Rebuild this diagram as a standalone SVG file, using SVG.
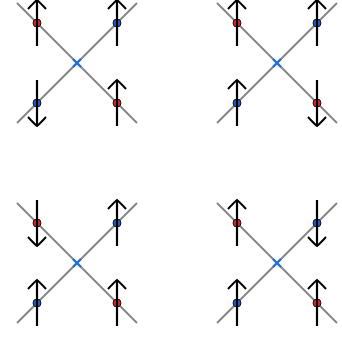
<svg xmlns="http://www.w3.org/2000/svg" width="342" height="339" viewBox="0 0 342 339">
<style>
.ln{stroke:#888888;stroke-width:2;fill:none}
.ar{stroke:#000000;stroke-width:2.2;fill:none;marker-end:url(#ah)}
.r{fill:#d62728;stroke:#000000;stroke-width:0.8}
.b{fill:#1f5fc0;stroke:#000000;stroke-width:0.8}
.x{stroke:#1f6fd6;stroke-width:2.2;fill:none}
</style>
<defs>
<marker id="ah" markerUnits="userSpaceOnUse" viewBox="-11 -11 13 22" refX="0" refY="0" markerWidth="13" markerHeight="22" orient="auto" overflow="visible">
<path d="M-9,-9 Q-2.5,-3 0,0 Q-2.5,3 -9,9" stroke="#000000" stroke-width="2" fill="none"/>
</marker>
</defs>
<rect width="342" height="339" fill="#ffffff"/>
<g id="connectors">
<path class="ln" d="M17,3 L137,123 M137,3 L17,123"/>
<path class="ln" d="M217,3 L337,123 M337,3 L217,123"/>
<path class="ln" d="M17,203 L137,323 M137,203 L17,323"/>
<path class="ln" d="M217,203 L337,323 M337,203 L217,323"/>
<path class="x" d="M73,59 L81,67 M81,59 L73,67"/>
<path class="x" d="M273,59 L281,67 M281,59 L273,67"/>
<path class="x" d="M73,259 L81,267 M81,259 L73,267"/>
<path class="x" d="M273,259 L281,267 M281,259 L273,267"/>
</g>
<g id="tl">
<circle class="r" cx="37" cy="23" r="4"/><path class="ar" d="M37,46 L37,0"/>
<circle class="b" cx="117" cy="23" r="4"/><path class="ar" d="M117,46 L117,0"/>
<circle class="b" cx="37" cy="103" r="4"/><path class="ar" d="M37,80 L37,126"/>
<circle class="r" cx="117" cy="103" r="4"/><path class="ar" d="M117,126 L117,80"/>
</g>
<g id="tr">
<circle class="r" cx="237" cy="23" r="4"/><path class="ar" d="M237,46 L237,0"/>
<circle class="b" cx="317" cy="23" r="4"/><path class="ar" d="M317,46 L317,0"/>
<circle class="b" cx="237" cy="103" r="4"/><path class="ar" d="M237,126 L237,80"/>
<circle class="r" cx="317" cy="103" r="4"/><path class="ar" d="M317,80 L317,126"/>
</g>
<g id="bl">
<circle class="r" cx="37" cy="223" r="4"/><path class="ar" d="M37,200 L37,246"/>
<circle class="b" cx="117" cy="223" r="4"/><path class="ar" d="M117,246 L117,200"/>
<circle class="b" cx="37" cy="303" r="4"/><path class="ar" d="M37,326 L37,280"/>
<circle class="r" cx="117" cy="303" r="4"/><path class="ar" d="M117,326 L117,280"/>
</g>
<g id="br">
<circle class="r" cx="237" cy="223" r="4"/><path class="ar" d="M237,246 L237,200"/>
<circle class="b" cx="317" cy="223" r="4"/><path class="ar" d="M317,200 L317,246"/>
<circle class="b" cx="237" cy="303" r="4"/><path class="ar" d="M237,326 L237,280"/>
<circle class="r" cx="317" cy="303" r="4"/><path class="ar" d="M317,326 L317,280"/>
</g>
</svg>
